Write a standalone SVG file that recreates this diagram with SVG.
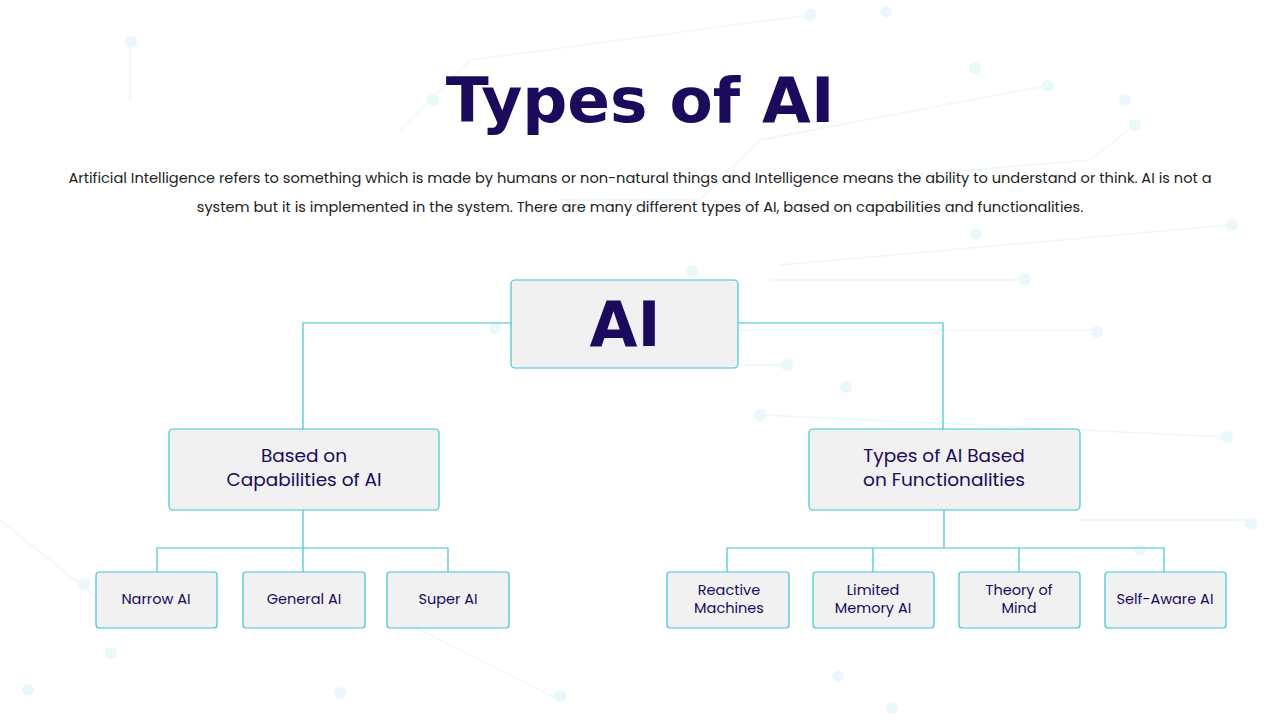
<svg xmlns="http://www.w3.org/2000/svg" width="1280" height="720" viewBox="0 0 1280 720">
<style>
.box{fill:#f1f1f1;stroke:#3cc6d6;stroke-width:1.2}
.c{fill:none;stroke:#3cc6d6;stroke-width:1.2}
.bg{fill:none;stroke:#eaf8fa;stroke-width:1.5}
.dot{fill:#eaf8fb}
.t{font-family:Poppins,"Open Sans","Liberation Sans",sans-serif;fill:#1c0a5c;text-anchor:middle}
</style>
<rect width="1280" height="720" fill="#fff"/>
<g>
<path class="bg" d="M400 130 L470 60 L810 15 M560 200 L700 200 L760 140 L1050 85 M780 265 L1230 225 M770 280 L1025 280 M740 330 L1100 330 M740 365 L790 365 M760 415 L1230 437 M1080 520 L1250 520 M0 520 L100 600 M400 620 L560 700 M130 40 L130 100 M1135 125 L1090 160 L850 180"/>
<circle class="dot" cx="131" cy="42" r="6"/><circle class="dot" cx="810" cy="15" r="6"/><circle class="dot" cx="886" cy="12" r="6"/><circle class="dot" cx="975" cy="68" r="6"/><circle class="dot" cx="1048" cy="86" r="6"/><circle class="dot" cx="1125" cy="100" r="6"/><circle class="dot" cx="1135" cy="125" r="6"/><circle class="dot" cx="1232" cy="225" r="6"/><circle class="dot" cx="976" cy="234" r="6"/><circle class="dot" cx="1025" cy="279" r="6"/><circle class="dot" cx="1097" cy="332" r="6"/><circle class="dot" cx="787" cy="365" r="6"/><circle class="dot" cx="846" cy="387" r="6"/><circle class="dot" cx="760" cy="415" r="6"/><circle class="dot" cx="1227" cy="437" r="6"/><circle class="dot" cx="1251" cy="524" r="6"/><circle class="dot" cx="1140" cy="550" r="6"/><circle class="dot" cx="84" cy="584" r="6"/><circle class="dot" cx="28" cy="690" r="6"/><circle class="dot" cx="111" cy="653" r="6"/><circle class="dot" cx="340" cy="693" r="6"/><circle class="dot" cx="560" cy="696" r="6"/><circle class="dot" cx="838" cy="676" r="6"/><circle class="dot" cx="892" cy="708" r="6"/><circle class="dot" cx="433" cy="100" r="6"/><circle class="dot" cx="692" cy="271" r="6"/><circle class="dot" cx="495" cy="328" r="6"/>
</g>
<text class="t" x="640" y="122" font-size="63" font-weight="bold" style="font-family:'DejaVu Sans',sans-serif">Types of AI</text>
<text class="t" x="640" y="183" font-size="14.6" style="fill:#222">Artificial Intelligence refers to something which is made by humans or non-natural things and Intelligence means the ability to understand or think. AI is not a</text>
<text class="t" x="640" y="212" font-size="14.6" style="fill:#222">system but it is implemented in the system. There are many different types of AI, based on capabilities and functionalities.</text>
<g id="connectors">
<path class="c" d="M511 323 H303 V429 M738 323 H943 V429 M303 510 V548 M157 572 V548 H448 V572 M303 548 V572 M944 510 V548 M727 572 V548 H1164 V572 M873 548 V572 M1019 548 V572"/>
</g>
<g id="ai"><rect class="box" x="511" y="280" width="227" height="88" rx="4"/><text class="t" x="625" y="346" font-size="62" font-weight="bold" style="font-family:'DejaVu Sans',sans-serif">AI</text></g>
<g id="cap"><rect class="box" x="169" y="429" width="270" height="81" rx="4"/><text class="t" x="304" y="462" font-size="18.5">Based on</text><text class="t" x="304" y="486" font-size="18.5">Capabilities of AI</text></g>
<g id="func"><rect class="box" x="809" y="429" width="271" height="81" rx="4"/><text class="t" x="944" y="462" font-size="18.5">Types of AI Based</text><text class="t" x="944" y="486" font-size="18.5">on Functionalities</text></g>
<g id="narrow"><rect class="box" x="96" y="572" width="121" height="56" rx="3"/><text class="t" x="156" y="604" font-size="14.5">Narrow AI</text></g>
<g id="general"><rect class="box" x="243" y="572" width="122" height="56" rx="3"/><text class="t" x="304" y="604" font-size="14.5">General AI</text></g>
<g id="super"><rect class="box" x="387" y="572" width="122" height="56" rx="3"/><text class="t" x="448" y="604" font-size="14.5">Super AI</text></g>
<g id="reactive"><rect class="box" x="667" y="572" width="122" height="56" rx="3"/><text class="t" x="729" y="595" font-size="14.5">Reactive</text><text class="t" x="729" y="613" font-size="14.5">Machines</text></g>
<g id="limited"><rect class="box" x="813" y="572" width="121" height="56" rx="3"/><text class="t" x="873" y="595" font-size="14.5">Limited</text><text class="t" x="873" y="613" font-size="14.5">Memory AI</text></g>
<g id="theory"><rect class="box" x="959" y="572" width="121" height="56" rx="3"/><text class="t" x="1019" y="595" font-size="14.5">Theory of</text><text class="t" x="1019" y="613" font-size="14.5">Mind</text></g>
<g id="selfaware"><rect class="box" x="1105" y="572" width="121" height="56" rx="3"/><text class="t" x="1165" y="604" font-size="14.5">Self-Aware AI</text></g>
</svg>
